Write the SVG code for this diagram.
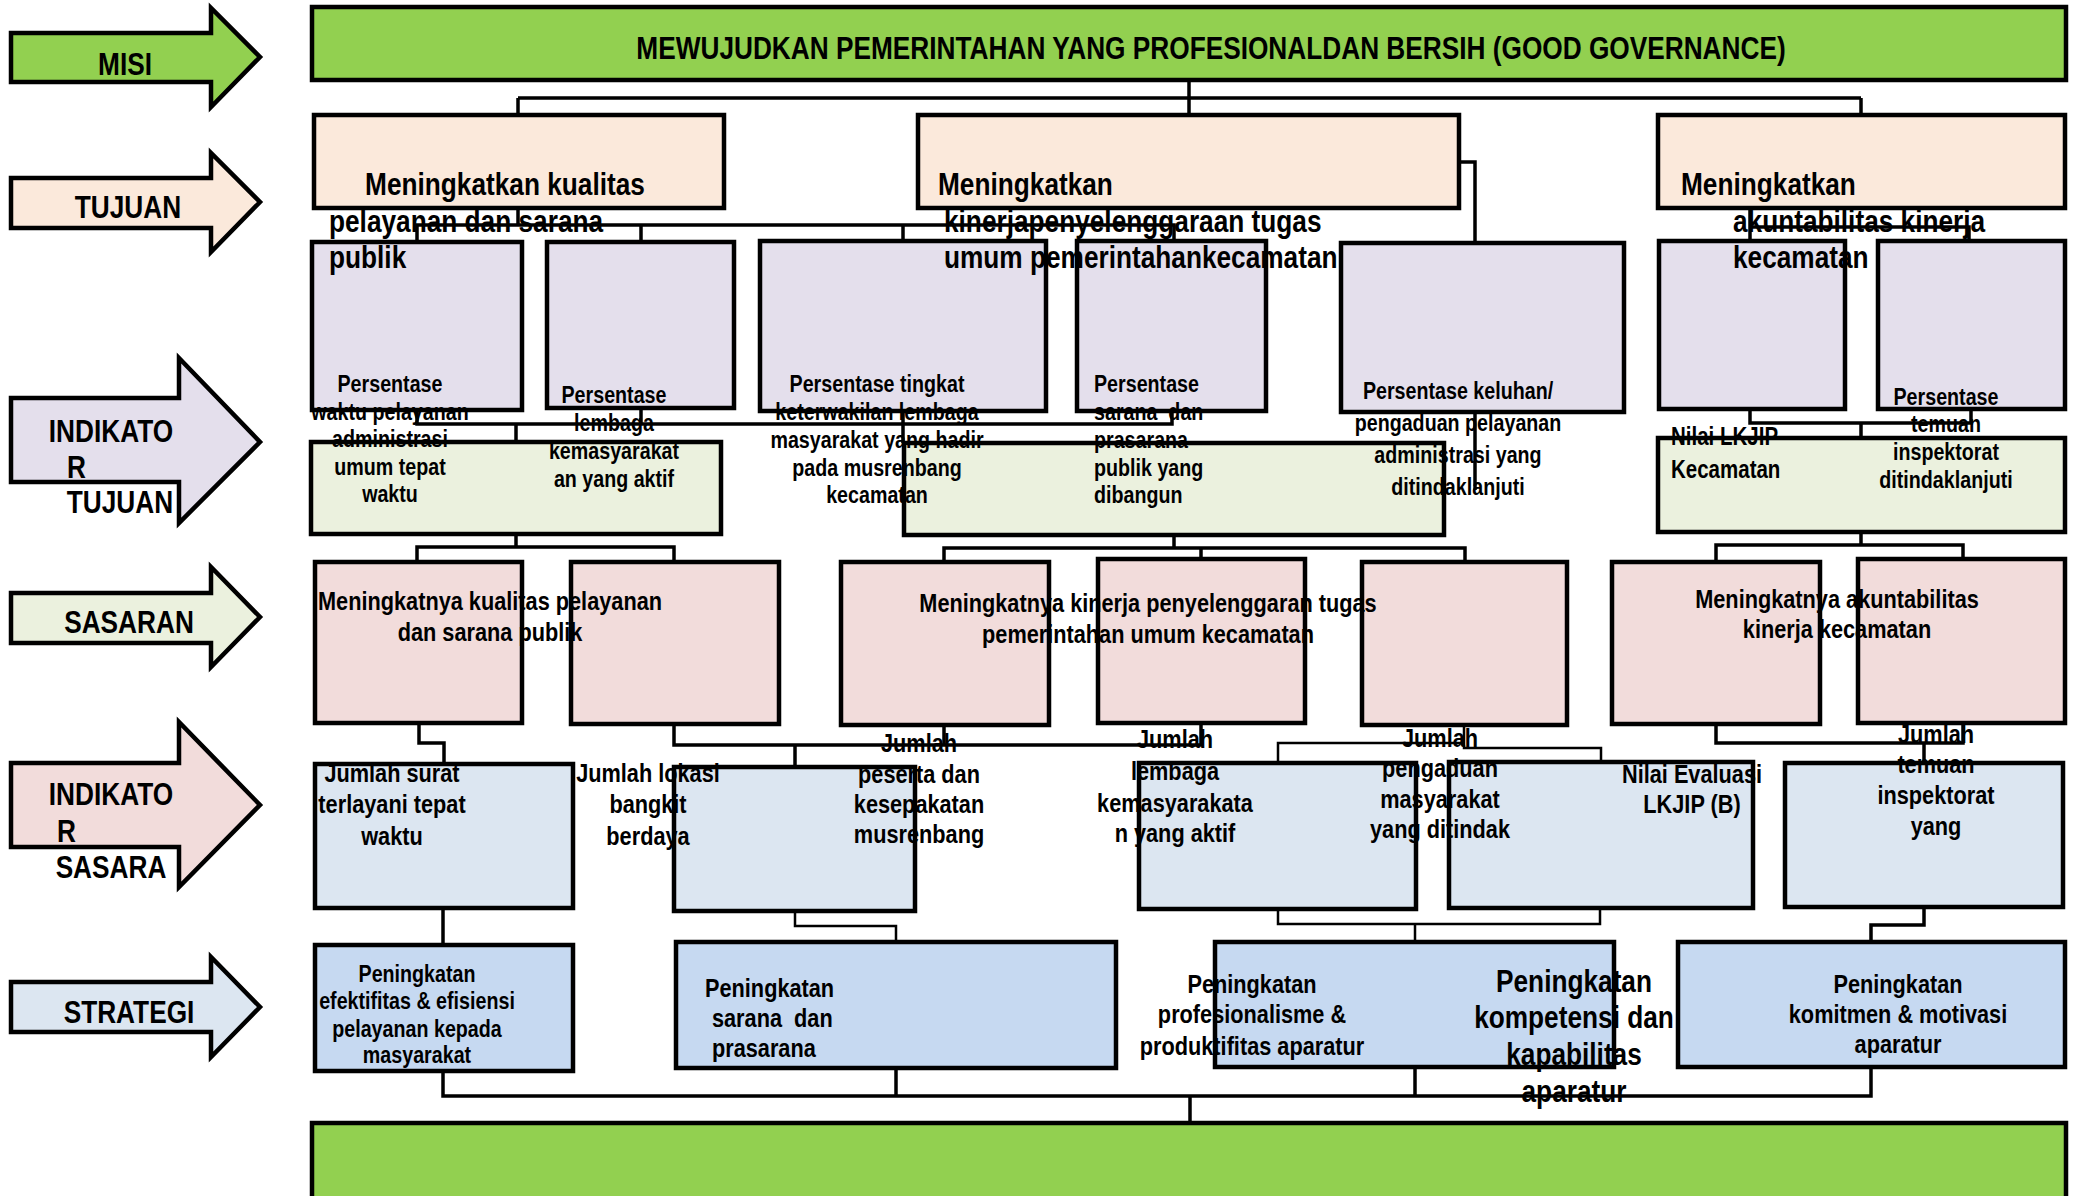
<svg xmlns="http://www.w3.org/2000/svg" width="2082" height="1196" viewBox="0 0 2082 1196">
<style>
.box{stroke:#000;stroke-width:4.5}
.arr{stroke:#000;stroke-width:4.5;stroke-linejoin:miter}
.t{font-family:"Liberation Sans",Arial,sans-serif;font-weight:bold;fill:#000}
.m{text-anchor:middle}
.c{fill:none;stroke:#000;stroke-width:3.5}
.ct{fill:none;stroke:#000;stroke-width:2.5}
.misi{fill:#92D050}.tuj{fill:#FBE9DB}.it{fill:#E4DFEC}.sas{fill:#EBF1DE}.is{fill:#F2DCDB}.str{fill:#DCE6F1}.pro{fill:#C6D9F1}
</style>
<rect width="2082" height="1196" fill="#fff"/>

<g id="legend">
<g id="arrow-misi"><polygon class="arr misi" points="11,33 211,33 211,8 260,57 211,107 211,82 11,82"/><text class="t m" font-size="32" transform="translate(125,75) scale(0.82,1)">MISI</text></g>
<g id="arrow-tujuan"><polygon class="arr tuj" points="11,178 211,178 211,153 260,202 211,252 211,228 11,228"/><text class="t m" font-size="32" transform="translate(128,218) scale(0.82,1)">TUJUAN</text></g>
<g id="arrow-indikator-tujuan"><polygon class="arr it" points="11,398 179,398 179,358 260,442 179,523 179,482 11,482"/><text class="t m" font-size="32" transform="translate(111,442) scale(0.82,1)">INDIKATO</text><text class="t" font-size="32" transform="translate(67,478) scale(0.82,1)">R</text><text class="t m" font-size="32" transform="translate(120,513) scale(0.82,1)">TUJUAN</text></g>
<g id="arrow-sasaran"><polygon class="arr sas" points="11,593 211,593 211,567 260,617 211,667 211,643 11,643"/><text class="t m" font-size="32" transform="translate(129,633) scale(0.82,1)">SASARAN</text></g>
<g id="arrow-indikator-sasaran"><polygon class="arr is" points="11,763 179,763 179,722 260,805 179,887 179,847 11,847"/><text class="t m" font-size="32" transform="translate(111,805) scale(0.82,1)">INDIKATO</text><text class="t" font-size="32" transform="translate(57,842) scale(0.82,1)">R</text><text class="t m" font-size="32" transform="translate(111,878) scale(0.82,1)">SASARA</text></g>
<g id="arrow-strategi"><polygon class="arr str" points="11,982 211,982 211,957 260,1007 211,1057 211,1032 11,1032"/><text class="t m" font-size="32" transform="translate(129,1023) scale(0.82,1)">STRATEGI</text></g>
</g>

<g id="bottom-box"><rect class="box misi" x="312" y="1123" width="1754" height="100"/></g>

<g id="strategi-row">
<g id="s1"><rect class="box pro" x="315" y="945" width="258" height="126"/></g>
<g id="s2"><rect class="box pro" x="676" y="942" width="440" height="126"/></g>
<g id="s3"><rect class="box pro" x="1215" y="942" width="399" height="125"/></g>
<g id="s4"><rect class="box pro" x="1678" y="942" width="387" height="125"/></g>
</g>

<g id="blue-row">
<g id="b1"><rect class="box str" x="315" y="764" width="258" height="144"/>
<text class="t m" font-size="24" transform="translate(417,982) scale(0.82,1)"><tspan x="0" y="0">Peningkatan</tspan><tspan x="0" y="27">efektifitas &amp; efisiensi</tspan><tspan x="0" y="55">pelayanan kepada</tspan><tspan x="0" y="81">masyarakat</tspan></text></g>
<g id="b2"><rect class="box str" x="674" y="767" width="241" height="144"/>
<text class="t" font-size="26.5" xml:space="preserve" transform="translate(705,997) scale(0.82,1)"><tspan x="0" y="0">Peningkatan</tspan><tspan x="8.5" y="30">sarana  dan</tspan><tspan x="8.5" y="60">prasarana</tspan></text></g>
<g id="b3"><rect class="box str" x="1139" y="763" width="277" height="146"/>
<text class="t m" font-size="26.5" transform="translate(1252,993) scale(0.82,1)"><tspan x="0" y="0">Peningkatan</tspan><tspan x="0" y="30">profesionalisme &amp;</tspan><tspan x="0" y="62">produktifitas aparatur</tspan></text></g>
<g id="b4"><rect class="box str" x="1449" y="762" width="304" height="146"/>
<text class="t m" font-size="32" transform="translate(1574,992) scale(0.82,1)"><tspan x="0" y="0">Peningkatan</tspan><tspan x="0" y="36">kompetensi dan</tspan><tspan x="0" y="73">kapabilitas</tspan><tspan x="0" y="110">aparatur</tspan></text></g>
<g id="b5"><rect class="box str" x="1785" y="763" width="278" height="144"/>
<text class="t m" font-size="26.5" transform="translate(1898,993) scale(0.82,1)"><tspan x="0" y="0">Peningkatan</tspan><tspan x="0" y="30">komitmen &amp; motivasi</tspan><tspan x="0" y="60">aparatur</tspan></text></g>
</g>

<g id="pink-row">
<g id="p1"><rect class="box is" x="315" y="562" width="207" height="161"/>
<text class="t m" font-size="26.5" transform="translate(392,782) scale(0.82,1)"><tspan x="0" y="0">Jumlah surat</tspan><tspan x="0" y="31">terlayani tepat</tspan><tspan x="0" y="63">waktu</tspan></text></g>
<g id="p2"><rect class="box is" x="571" y="562" width="208" height="162"/>
<text class="t m" font-size="26.5" transform="translate(648,782) scale(0.82,1)"><tspan x="0" y="0">Jumlah lokasi</tspan><tspan x="0" y="31">bangkit</tspan><tspan x="0" y="63">berdaya</tspan></text></g>
<g id="p3"><rect class="box is" x="841" y="562" width="208" height="163"/>
<text class="t m" font-size="26.5" transform="translate(919,752) scale(0.82,1)"><tspan x="0" y="0">Jumlah</tspan><tspan x="0" y="31">peserta dan</tspan><tspan x="0" y="61">kesepakatan</tspan><tspan x="0" y="91">musrenbang</tspan></text></g>
<g id="p4"><rect class="box is" x="1098" y="559" width="207" height="164"/>
<text class="t m" font-size="26.5" transform="translate(1175,748) scale(0.82,1)"><tspan x="0" y="0">Jumlah</tspan><tspan x="0" y="32">lembaga</tspan><tspan x="0" y="64">kemasyarakata</tspan><tspan x="0" y="94">n yang aktif</tspan></text></g>
<g id="p5"><rect class="box is" x="1362" y="562" width="205" height="163"/>
<text class="t m" font-size="26.5" transform="translate(1440,747) scale(0.82,1)"><tspan x="0" y="0">Jumlah</tspan><tspan x="0" y="30">pengaduan</tspan><tspan x="0" y="61">masyarakat</tspan><tspan x="0" y="91">yang ditindak</tspan></text></g>
<g id="p6"><rect class="box is" x="1612" y="562" width="208" height="162"/>
<text class="t m" font-size="26.5" transform="translate(1692,783) scale(0.82,1)"><tspan x="0" y="0">Nilai Evaluasi</tspan><tspan x="0" y="30">LKJIP (B)</tspan></text></g>
<g id="p7"><rect class="box is" x="1858" y="559" width="207" height="164"/>
<text class="t m" font-size="26.5" transform="translate(1936,743) scale(0.82,1)"><tspan x="0" y="0">Jumlah</tspan><tspan x="0" y="30">temuan</tspan><tspan x="0" y="61">inspektorat</tspan><tspan x="0" y="92">yang</tspan></text></g>
</g>

<g id="green-row">
<g id="g1"><rect class="box sas" x="311" y="442" width="410" height="92"/>
<text class="t m" font-size="26.5" transform="translate(490,610) scale(0.82,1)"><tspan x="0" y="0">Meningkatnya kualitas pelayanan</tspan><tspan x="0" y="31">dan sarana publik</tspan></text></g>
<g id="g2"><rect class="box sas" x="904" y="443" width="540" height="92"/>
<text class="t m" font-size="26.5" transform="translate(1148,612) scale(0.82,1)"><tspan x="0" y="0">Meningkatnya kinerja penyelenggaran tugas</tspan><tspan x="0" y="31">pemerintahan umum kecamatan</tspan></text></g>
<g id="g3"><rect class="box sas" x="1658" y="438" width="407" height="94"/>
<text class="t m" font-size="26.5" transform="translate(1837,608) scale(0.82,1)"><tspan x="0" y="0">Meningkatnya akuntabilitas</tspan><tspan x="0" y="30">kinerja kecamatan</tspan></text></g>
</g>

<g id="lavender-row">
<g id="l1"><rect class="box it" x="312" y="242" width="210" height="168"/>
<text class="t m" font-size="24" transform="translate(390,392) scale(0.82,1)"><tspan x="0" y="0">Persentase</tspan><tspan x="0" y="28">waktu pelayanan</tspan><tspan x="0" y="55">administrasi</tspan><tspan x="0" y="83">umum tepat</tspan><tspan x="0" y="110">waktu</tspan></text></g>
<g id="l2"><rect class="box it" x="547" y="242" width="187" height="166"/>
<text class="t m" font-size="24" transform="translate(614,403) scale(0.82,1)"><tspan x="0" y="0">Persentase</tspan><tspan x="0" y="28">lembaga</tspan><tspan x="0" y="56">kemasyarakat</tspan><tspan x="0" y="84">an yang aktif</tspan></text></g>
<g id="l3"><rect class="box it" x="760" y="241" width="286" height="170"/>
<text class="t m" font-size="24" transform="translate(877,392) scale(0.82,1)"><tspan x="0" y="0">Persentase tingkat</tspan><tspan x="0" y="28">keterwakilan lembaga</tspan><tspan x="0" y="56">masyarakat yang hadir</tspan><tspan x="0" y="84">pada musrenbang</tspan><tspan x="0" y="111">kecamatan</tspan></text></g>
<g id="l4"><rect class="box it" x="1077" y="241" width="189" height="170"/>
<text class="t" font-size="24" xml:space="preserve" transform="translate(1094,392) scale(0.82,1)"><tspan x="0" y="0">Persentase</tspan><tspan x="0" y="28">sarana  dan</tspan><tspan x="0" y="56">prasarana</tspan><tspan x="0" y="84">publik yang</tspan><tspan x="0" y="111">dibangun</tspan></text></g>
<g id="l5"><rect class="box it" x="1341" y="243" width="283" height="169"/>
<text class="t m" font-size="24" transform="translate(1458,399) scale(0.82,1)"><tspan x="0" y="0">Persentase keluhan/</tspan><tspan x="0" y="32">pengaduan pelayanan</tspan><tspan x="0" y="64">administrasi yang</tspan><tspan x="0" y="96">ditindaklanjuti</tspan></text></g>
<g id="l6"><rect class="box it" x="1659" y="241" width="186" height="168"/>
<text class="t" font-size="25" transform="translate(1671,445) scale(0.82,1)"><tspan x="0" y="0">Nilai LKJIP</tspan><tspan x="0" y="33">Kecamatan</tspan></text></g>
<g id="l7"><rect class="box it" x="1878" y="241" width="187" height="168"/>
<text class="t m" font-size="24" transform="translate(1946,405) scale(0.82,1)"><tspan x="0" y="0">Persentase</tspan><tspan x="0" y="27">temuan</tspan><tspan x="0" y="55">inspektorat</tspan><tspan x="0" y="83">ditindaklanjuti</tspan></text></g>
</g>

<g id="tujuan-row">
<g id="t1"><rect class="box tuj" x="314" y="115" width="410" height="93"/>
<text class="t" font-size="32" transform="translate(329,195) scale(0.82,1)"><tspan x="44" y="0">Meningkatkan kualitas</tspan><tspan x="0" y="37">pelayanan dan sarana</tspan><tspan x="0" y="73">publik</tspan></text></g>
<g id="t2"><rect class="box tuj" x="918" y="115" width="541" height="93"/>
<text class="t" font-size="32" transform="translate(938,195) scale(0.82,1)"><tspan x="0" y="0">Meningkatkan</tspan><tspan x="7.3" y="37">kinerjapenyelenggaraan tugas</tspan><tspan x="7.3" y="73">umum pemerintahankecamatan</tspan></text></g>
<g id="t3"><rect class="box tuj" x="1658" y="115" width="407" height="93"/>
<text class="t" font-size="32" transform="translate(1681,195) scale(0.82,1)"><tspan x="0" y="0">Meningkatkan</tspan><tspan x="63.4" y="37">akuntabilitas kinerja</tspan><tspan x="63.4" y="73">kecamatan</tspan></text></g>
</g>

<g id="misi-box"><rect class="box misi" x="312" y="7" width="1754" height="73"/>
<text class="t m" font-size="32" transform="translate(1211,59) scale(0.82,1)">MEWUJUDKAN PEMERINTAHAN YANG PROFESIONALDAN BERSIH (GOOD GOVERNANCE)</text></g>

<g id="connectors">
<path class="c" d="M1189,80V115 M518,98H1861 M518,98V115 M1861,98V115"/>
<path class="c" d="M518,208V225 M417,242V225H1174V241 M641,225V242 M903,225V241"/>
<path class="c" d="M1459,162H1475V243"/>
<path class="c" d="M1750,208V241 M1750,227H1969V241"/>
<path class="c" d="M417,410V424H1172V411 M641,408V424 M903,411V443 M516,424V442"/>
<path class="c" d="M1475,412V490"/>
<path class="c" d="M1750,409V423H1971V409 M1861,423V438"/>
<path class="c" d="M516,534V547 M417,561V547H674V561"/>
<path class="c" d="M1174,535V548 M944,561V548H1465V561 M1201,548V559"/>
<path class="c" d="M1861,532V545 M1716,561V545H1963V559"/>
<path class="c" d="M419,723V743H444V764"/>
<path class="c" d="M674,724V745H1201V723 M944,725V745 M795,745V767"/>
<path class="ct" d="M1464,725V743 M1278,763V743H1464V748H1601V762"/>
<path class="c" d="M1716,724V743H1963V723 M1924,743V763"/>
<path class="c" d="M443,908V945"/>
<path class="ct" d="M795,911V926H896V942"/>
<path class="ct" d="M1278,909V924H1600V908 M1415,924V942"/>
<path class="c" d="M1924,907V925H1871V942"/>
<path class="c" d="M443,1071V1096H1871V1067 M896,1068V1096 M1415,1067V1096 M1190,1096V1123"/>
</g>
</svg>
